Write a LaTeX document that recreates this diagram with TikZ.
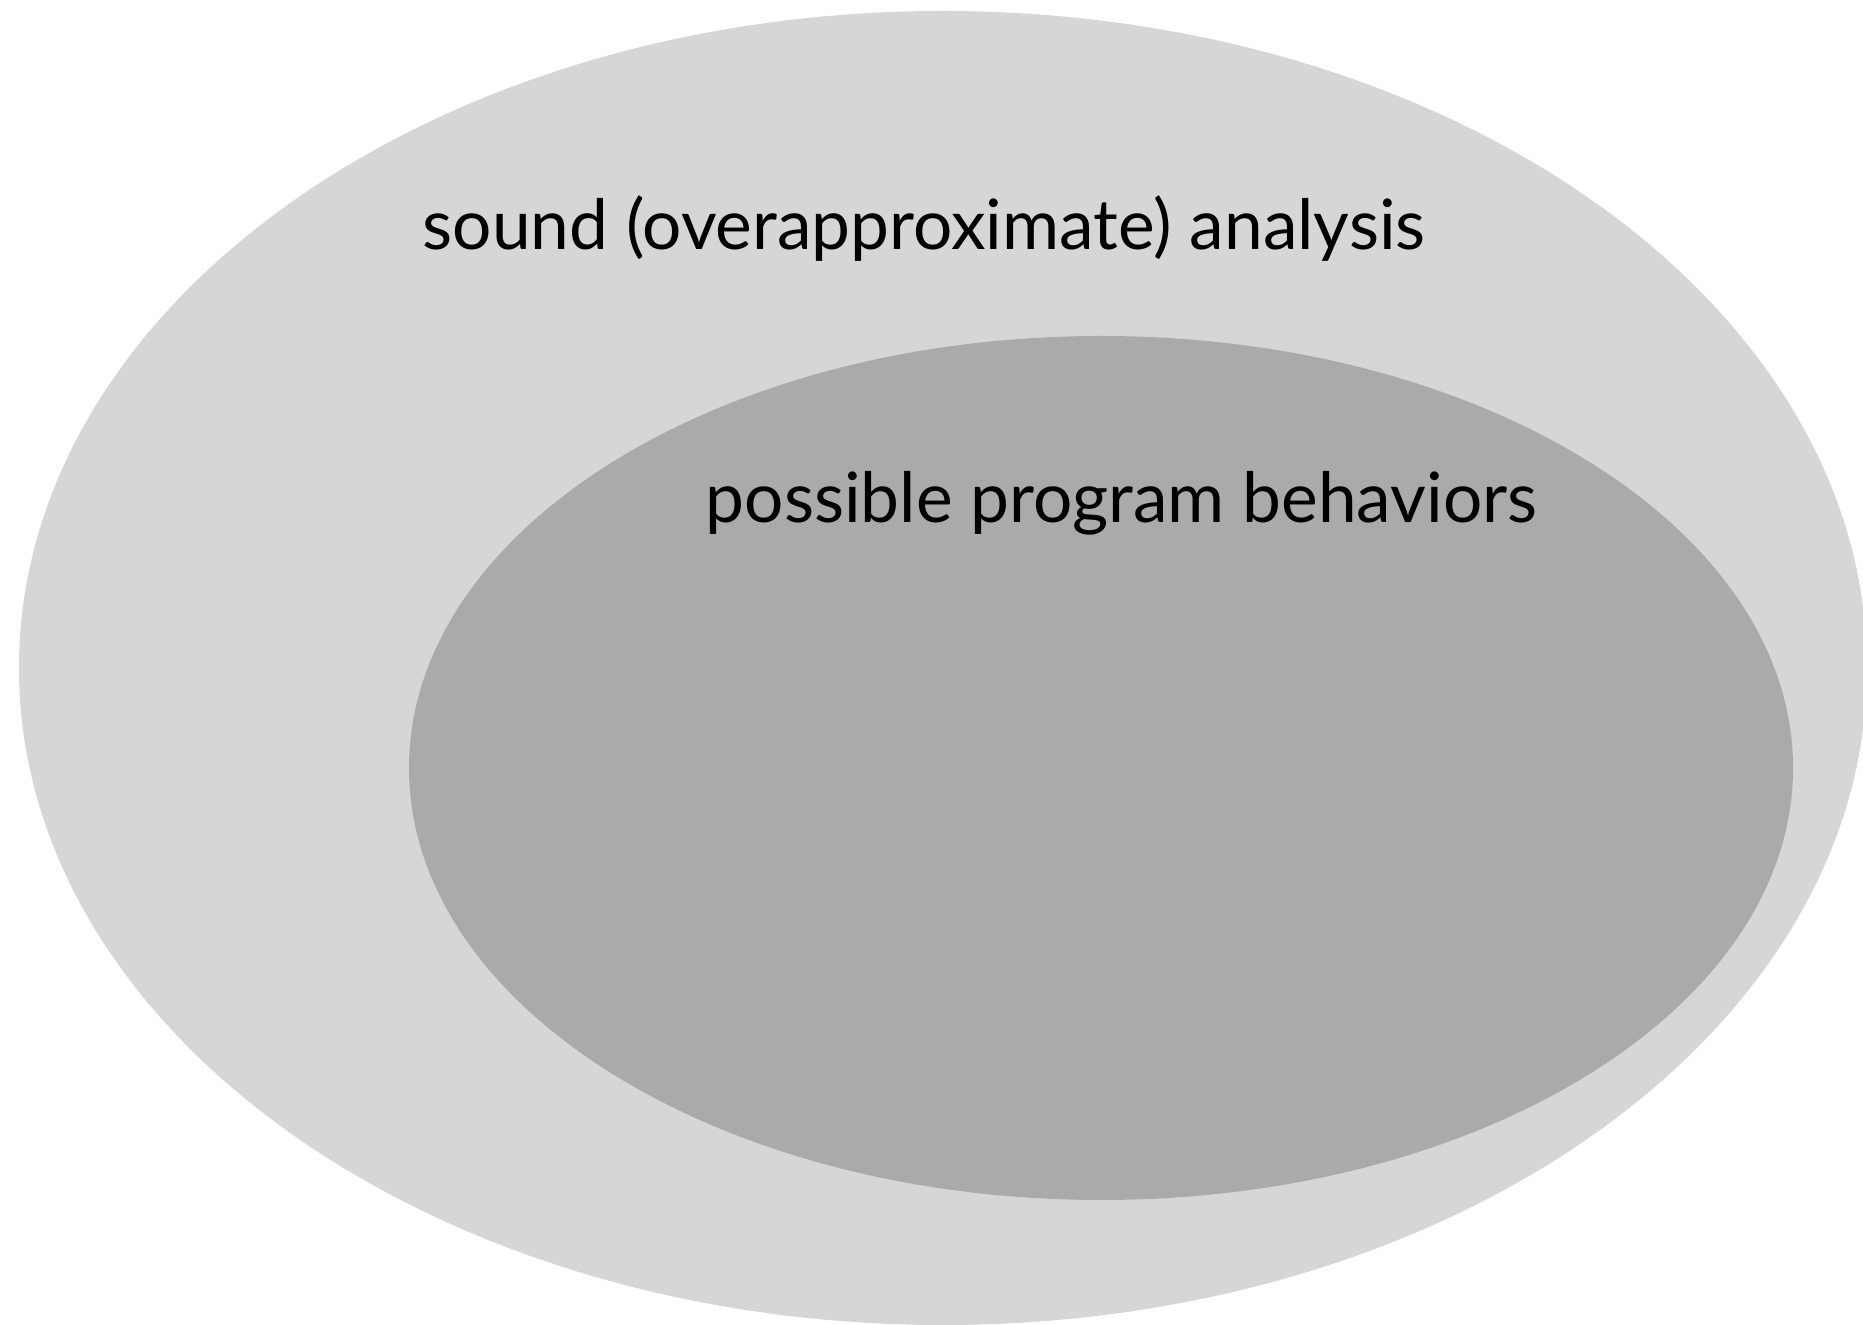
\documentclass[tikz,border=0pt]{standalone}
\usepackage{fontspec}
\setmainfont{Lato}
\usepackage{tikz}

\definecolor{outergray}{RGB}{214,214,214}
\definecolor{innergray}{RGB}{170,170,170}

\begin{document}
\begin{tikzpicture}[x=0.1mm,y=-0.1mm]
    \tikzset{
        soundset/.style={fill=outergray},
        behaviorset/.style={fill=innergray},
        setlabel/.style={font=\fontsize{19.75}{24}\selectfont,inner sep=0pt,anchor=base west}
    }
    \useasboundingbox (0,0) rectangle (1863,1325);
    \clip (0,0) rectangle (1863,1325);

    \fill[soundset] (943,668) ellipse [x radius=924, y radius=657];
    \fill[behaviorset] (1101,768) ellipse [x radius=692, y radius=432];

    \node[setlabel] (sound) at (422,250) {sound (overapproximate) analysis};
    \node[setlabel] (behaviors) at (705,523) {possible program behaviors};
\end{tikzpicture}
\end{document}
